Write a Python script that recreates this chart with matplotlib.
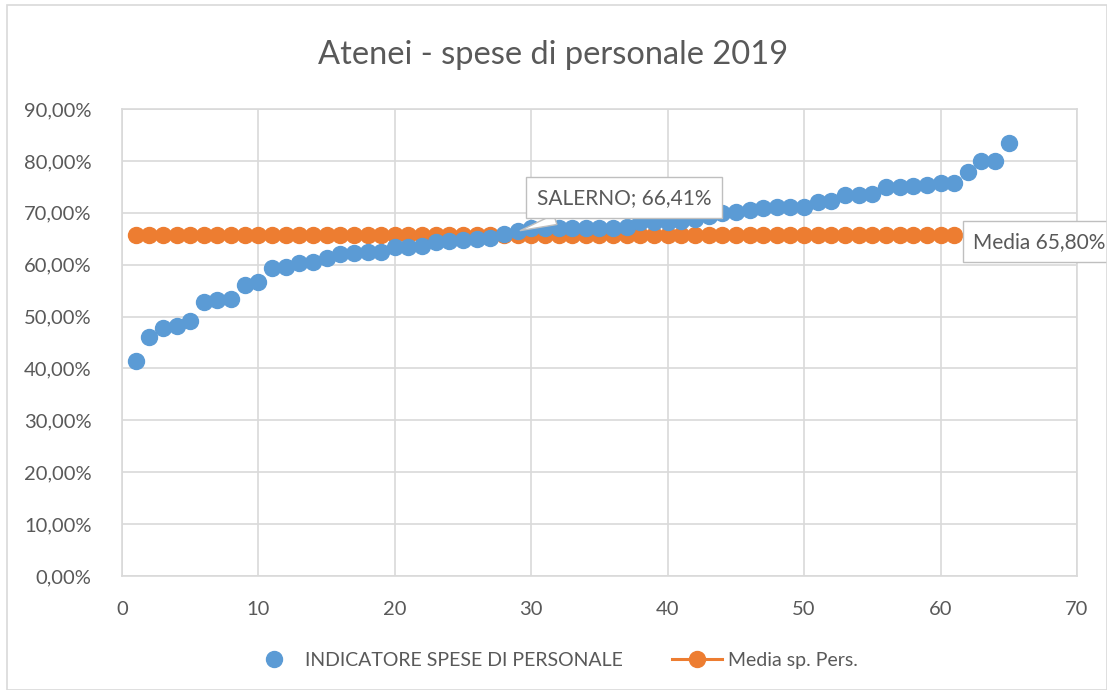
import matplotlib
matplotlib.use('Agg')
import matplotlib.pyplot as plt
from matplotlib.patches import Rectangle
from matplotlib.ticker import FuncFormatter
import numpy as np

plt.rcParams['font.family'] = ['Lato', 'DejaVu Sans']

# indicatore spese di personale per ateneo (ordinato), in %
indicatore = [41.4, 46.0, 47.8, 48.2, 49.1, 52.8, 53.2, 53.4, 56.1, 56.6,
              59.3, 59.5, 60.3, 60.5, 61.3, 62.0, 62.2, 62.4, 62.4, 63.4,
              63.4, 63.6, 64.4, 64.5, 64.7, 64.9, 65.1, 65.9, 66.41, 67.0,
              67.1, 67.1, 67.1, 67.1, 67.1, 67.1, 67.2, 68.3, 68.3, 68.3,
              68.4, 68.8, 69.4, 69.9, 70.2, 70.5, 71.0, 71.2, 71.2, 71.2,
              72.1, 72.3, 73.4, 73.4, 73.6, 74.9, 75.0, 75.2, 75.3, 75.7,
              75.8, 77.9, 80.0, 80.0, 83.4]
media = 65.80
n_media = 61
salerno_idx = 29

x_ind = np.arange(1, len(indicatore) + 1)
x_media = np.arange(1, n_media + 1)
y_media = [media] * n_media

blue = '#5b9bd5'
orange = '#ed7d31'
grey = '#595959'

fig = plt.figure(figsize=(11.07, 6.9), dpi=100)
fig.patches.append(Rectangle((0.006, 0.0), 0.994, 0.993, transform=fig.transFigure,
                             fill=False, edgecolor='#d9d9d9', linewidth=1.2))
ax = fig.add_axes([0.1102, 0.1652, 0.8627, 0.6768])

ax.plot(x_media, y_media, '-o', color=orange, markersize=11.5, linewidth=2.2,
        label='Media sp. Pers.', zorder=3)
ax.plot(x_ind, indicatore, 'o', color=blue, markersize=11.5, linestyle='none',
        label='INDICATORE SPESE DI PERSONALE', zorder=4)

ax.set_xlim(0, 70)
ax.set_ylim(0, 90)
ax.set_xticks(range(0, 71, 10))
ax.set_yticks(range(0, 91, 10))
ax.yaxis.set_major_formatter(FuncFormatter(lambda v, p: ('%.2f%%' % v).replace('.', ',')))
ax.grid(True, color='#d9d9d9', linewidth=1.2)
ax.set_axisbelow(True)
for s in ax.spines.values():
    s.set_color('#d9d9d9')
    s.set_linewidth(1.2)
ax.tick_params(length=0, labelsize=14.5, colors=grey)
ax.tick_params(axis='y', pad=22)
ax.tick_params(axis='x', pad=18)

fig.text(0.5, 0.921, 'Atenei - spese di personale 2019', ha='center', va='center',
         fontsize=23.5, color=grey)

box = dict(boxstyle='square,pad=0.5', facecolor='white', edgecolor='#bfbfbf', linewidth=1)
ax.annotate('SALERNO; ' + ('%.2f%%' % indicatore[salerno_idx - 1]).replace('.', ','),
            xy=(salerno_idx, indicatore[salerno_idx - 1]), xytext=(30.4, 72.9),
            fontsize=15, color=grey, bbox=box, va='center', ha='left', zorder=6,
            arrowprops=dict(arrowstyle='wedge,tail_width=0.5', facecolor='white',
                            edgecolor='#bfbfbf', linewidth=1))
ax.annotate(('Media %.2f%%' % media).replace('.', ','), xy=(n_media, media),
            xytext=(62.4, 64.4), fontsize=15, color=grey, bbox=box,
            va='center', ha='left', annotation_clip=False, zorder=6)

handles, labels = ax.get_legend_handles_labels()
leg = fig.legend(handles[::-1], labels[::-1], loc='center', bbox_to_anchor=(0.5, 0.043),
                 ncol=2, frameon=False, fontsize=14, columnspacing=2.5,
                 handlelength=2.6, handletextpad=0.3)
for t in leg.get_texts():
    t.set_color(grey)

fig.savefig('out.png', dpi=100)
